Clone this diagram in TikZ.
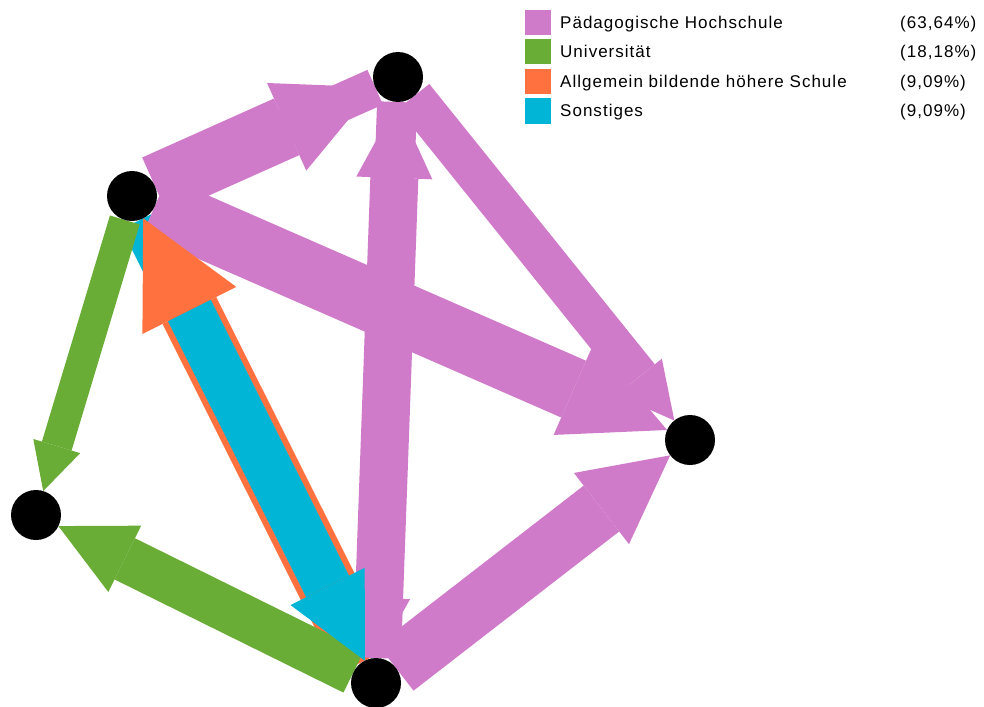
\documentclass[tikz,border=0pt]{standalone}
\usepackage{fontspec}
\setmainfont{Liberation Sans}[LetterSpace=6]
\usetikzlibrary{calc}
\definecolor{pinkc}{HTML}{CF7BC9}
\definecolor{greenc}{HTML}{69AD36}
\definecolor{orangec}{HTML}{FF7240}
\definecolor{cyanc}{HTML}{00B5D6}
\newcommand\dotrad{25pt}
% #1 source, #2 target, #3 shaft width, #4 head length, #5 colour
\newcommand\arrshaft[5]{%
  \pgfmathsetlengthmacro\hwA{#3/2}%
  \pgfmathsetlengthmacro\dB{25+#4}%
  \path ($(#1)!\dotrad!(#2)$) coordinate (s1) ($(#2)!\dB!(#1)$) coordinate (s2);
  \fill[#5] ($(s1)!\hwA!90:(#2)$) -- ($(s1)!\hwA!-90:(#2)$) -- ($(s2)!\hwA!90:(#1)$) -- ($(s2)!\hwA!-90:(#1)$) -- cycle;
}
% #1 source, #2 target, #3 head width, #4 head length, #5 colour
\newcommand\arrhead[5]{%
  \pgfmathsetlengthmacro\hhA{#3/2}%
  \pgfmathsetlengthmacro\dB{25+#4}%
  \path ($(#2)!\dB!(#1)$) coordinate (h1) ($(#2)!\dotrad!(#1)$) coordinate (h2);
  \fill[#5] ($(h1)!\hhA!90:(#1)$) -- (h2) -- ($(h1)!\hhA!-90:(#1)$) -- cycle;
}
\begin{document}
\begin{tikzpicture}[x=1pt,y=-1pt,
  dot/.style={circle,fill=black,minimum size=50pt,inner sep=0pt},
  key/.style={minimum width=26pt,minimum height=25pt,inner sep=0pt},
  lbl/.style={anchor=base west,inner sep=0pt,font=\fontsize{17}{20}\selectfont}]
\useasboundingbox (0,0) rectangle (984,706);
\coordinate (A) at (398,77);
\coordinate (B) at (132,196);
\coordinate (C) at (690,440);
\coordinate (D) at (36,515);
\coordinate (E) at (376,683);
% shafts
\arrshaft{E}{B}{60}{103}{orangec}
\arrshaft{B}{E}{48}{83}{cyanc}
\arrshaft{A}{B}{38}{57}{pinkc}
\arrshaft{B}{A}{62}{97}{pinkc}
\arrshaft{B}{C}{62}{102}{pinkc}
\arrshaft{A}{C}{40}{56}{pinkc}
\arrshaft{E}{A}{48}{76}{pinkc}
\arrshaft{A}{E}{40}{60}{pinkc}
\arrshaft{E}{C}{58}{87}{pinkc}
\arrshaft{B}{D}{31}{47}{greenc}
\arrshaft{E}{D}{46}{74}{greenc}
% heads
\arrhead{A}{B}{59}{57}{pinkc}
\arrhead{B}{A}{96}{97}{pinkc}
\arrhead{B}{C}{100}{102}{pinkc}
\arrhead{A}{C}{58}{56}{pinkc}
\arrhead{E}{A}{76}{76}{pinkc}
\arrhead{A}{E}{62}{60}{pinkc}
\arrhead{E}{C}{90}{87}{pinkc}
\arrhead{B}{D}{49}{47}{greenc}
\arrhead{E}{D}{74}{74}{greenc}
\arrhead{E}{B}{105}{103}{orangec}
\arrhead{B}{E}{83}{83}{cyanc}
% dots
\node[dot] (nA) at (A) {};
\node[dot] (nB) at (B) {};
\node[dot] (nC) at (C) {};
\node[dot] (nD) at (D) {};
\node[dot] (nE) at (E) {};
% legend
\node[key,fill=pinkc] (k1) at (538,23) {};
\node[key,fill=greenc] (k2) at (538,52) {};
\node[key,fill=orangec] (k3) at (538,81.5) {};
\node[key,fill=cyanc] (k4) at (538,111) {};
\node[lbl] (t1) at (560,29) {Pädagogische Hochschule};
\node[lbl] (t2) at (560,58) {Universität};
\node[lbl] (t3) at (560,87.5) {Allgemein bildende höhere Schule};
\node[lbl] (t4) at (560,117) {Sonstiges};
\node[lbl] (p1) at (900,29) {(63,64\%)};
\node[lbl] (p2) at (900,58) {(18,18\%)};
\node[lbl] (p3) at (900,87.5) {(9,09\%)};
\node[lbl] (p4) at (900,117) {(9,09\%)};
\end{tikzpicture}
\end{document}
